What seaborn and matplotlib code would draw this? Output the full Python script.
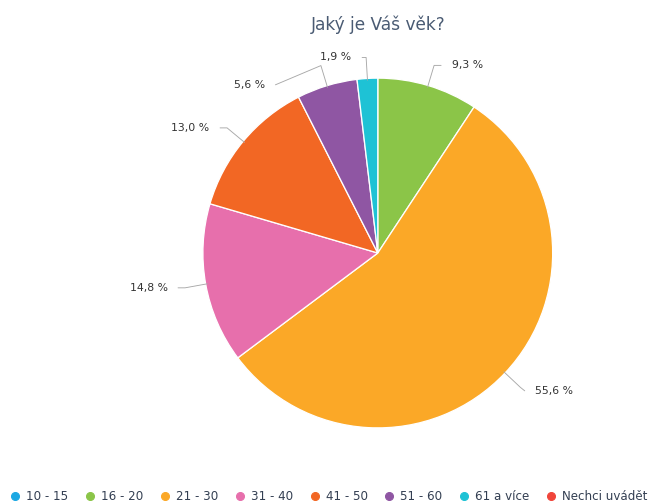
import numpy as np
import matplotlib.pyplot as plt
import seaborn as sns
from matplotlib.lines import Line2D

categories = ["10 - 15", "16 - 20", "21 - 30", "31 - 40", "41 - 50", "51 - 60", "61 a více", "Nechci uvádět"]
values = [0.0, 9.3, 55.6, 14.8, 13.0, 5.6, 1.9, 0.0]
colors = ["#1ca8e3", "#8bc548", "#fba827", "#e76fac", "#f26724", "#8f56a3", "#1ec2d5", "#f0453a"]

sns.set_theme(style="white")
plt.rcParams['font.family'] = ['DejaVu Sans']

fig = plt.figure(figsize=(9, 7), dpi=72)
ax = fig.add_axes([0.313, 0.151, 0.540, 0.694])

# only non-zero slices are drawn, legend shows all
idx = [i for i, v in enumerate(values) if v > 0]
vals = [values[i] for i in idx]
cols = [colors[i] for i in idx]
wedges, _ = ax.pie(vals, colors=cols, startangle=90, counterclock=False,
                   wedgeprops=dict(edgecolor="white", linewidth=1.3))
ax.set_xlim(-1, 1)
ax.set_ylim(-1, 1)
ax.set_aspect("equal")
ax.axis("off")

# leader lines + labels (some labels pushed aside like in the original)
nudge = {"51 - 60": (-0.22, -0.11), "61 a více": (0.017, 0), "21 - 30": (-0.015, -0.02)}
for w, i in zip(wedges, idx):
    ang = np.deg2rad((w.theta1 + w.theta2) / 2)
    c, s = np.cos(ang), np.sin(ang)
    x0, y0 = 0.99 * c, 0.99 * s
    x1, y1 = 1.12 * c, 1.12 * s
    side = 1 if c >= 0 else -1
    dx, dy = nudge.get(categories[i], (0, 0))
    tx = x1 + side * 0.1 + dx
    ty = y1 + dy
    ax.plot([x0, x1, tx - side * 0.06], [y0, y1, ty], color="#a8a8a8", lw=0.9,
            clip_on=False, solid_joinstyle="round")
    lab = ("%.1f %%" % values[i]).replace(".", ",")
    ax.text(tx, ty, lab, ha="left" if side > 0 else "right", va="center",
            fontsize=10.9, color="#333333")

fig.text(0.583, 0.951, "Jaký je Váš věk?", ha="center", va="center",
         fontsize=17, color="#4a5b73")

handles = [Line2D([], [], marker="o", ls="", markersize=8, markerfacecolor=c,
                  markeredgecolor=c) for c in colors]
fig.legend(handles, categories, loc="lower left", bbox_to_anchor=(0.0, -0.019),
           ncol=8, frameon=False, fontsize=11.9, handletextpad=0.52,
           columnspacing=1.42, handlelength=0.8, labelcolor="#333f52")

fig.savefig("out.png", dpi=72)
